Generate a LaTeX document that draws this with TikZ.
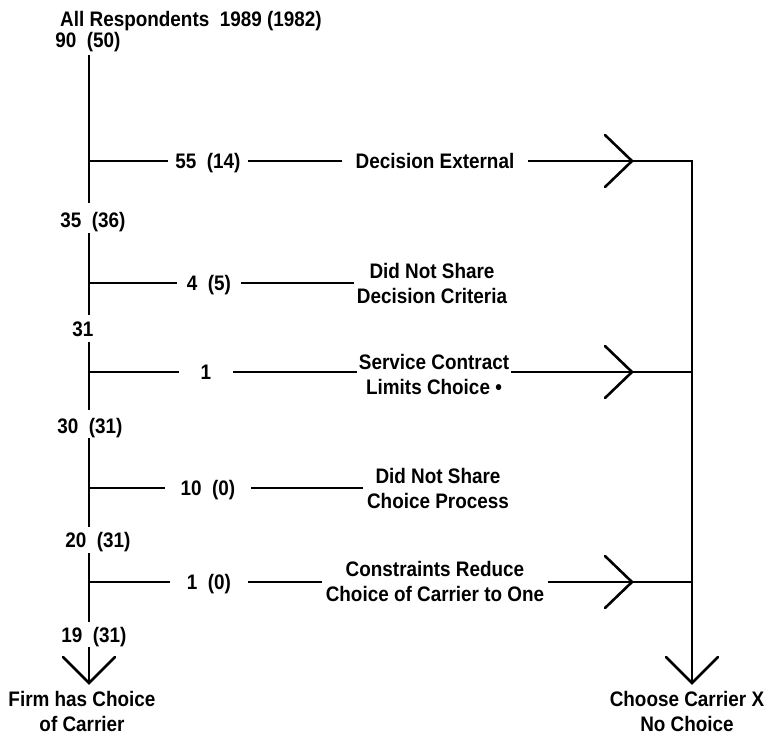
\documentclass[tikz,border=0pt]{standalone}
\usepackage{fontspec}
\setmainfont{Liberation Sans}[FakeStretch=0.9]
\begin{document}
\begin{tikzpicture}[x=1pt,y=-1pt,
  ln/.style={line width=2.6pt},
  chev/.style={line width=2.6pt, line cap=round},
  lbl/.style={font=\bfseries\fontsize{21}{25}\selectfont, inner sep=0pt, align=center},
  one/.style={lbl, text height=15pt, text depth=0pt},
]
\useasboundingbox (0,0) rectangle (772,738);
% top
\node[one] (title) at (191,19) {All Respondents\ \ 1989 (1982)};
\node[one] (n90) at (88,40) {90\ \ (50)};
\node[one] (n35) at (93,220) {35\ \ (36)};
\node[one] (n31) at (83,329) {31};
\node[one] (n30) at (90,426) {30\ \ (31)};
\node[one] (n20) at (98,540) {20\ \ (31)};
\node[one] (n19) at (94,635) {19\ \ (31)};
% branch labels
\node[one, outer xsep=7pt] (c1) at (208,161) {55\ \ (14)};
\node[one, outer xsep=14pt] (d1) at (435,161) {Decision External};
\node[one, outer xsep=10pt] (c2) at (209,283) {4\ \ (5)};
\node[lbl, outer xsep=3pt] (d2) at (432,283) {Did Not Share\\Decision Criteria};
\node[one, outer xsep=22pt] (c3) at (206,372) {1};
\node[lbl, outer xsep=2pt] (d3) at (434,374) {Service Contract\\Limits Choice •};
\node[one, outer xsep=16pt] (c4) at (208,488) {10\ \ (0)};
\node[lbl, outer xsep=4pt] (d4) at (438,488) {Did Not Share\\Choice Process};
\node[one, outer xsep=17pt] (c5) at (209,582) {1\ \ (0)};
\node[lbl, outer xsep=4pt] (d5) at (435,581) {Constraints Reduce\\Choice of Carrier to One};
\node[lbl] (fc) at (82,711) {Firm has Choice\\of Carrier};
\node[lbl] (cc) at (687,711) {Choose Carrier X\\No Choice};
% trunk coordinates
\coordinate (t0) at (89,55);  \coordinate (t1) at (89,203);
\coordinate (t2) at (89,233); \coordinate (t3) at (89,315);
\coordinate (t4) at (89,342); \coordinate (t5) at (89,410);
\coordinate (t6) at (89,438); \coordinate (t7) at (89,527);
\coordinate (t8) at (89,553); \coordinate (t9) at (89,622);
\coordinate (t10) at (89,647); \coordinate (lb) at (89,683);
\coordinate (j1) at (89,161); \coordinate (j2) at (89,283);
\coordinate (j3) at (89,372); \coordinate (j4) at (89,488);
\coordinate (j5) at (89,582);
\coordinate (a1) at (632,161); \coordinate (a3) at (632,372); \coordinate (a5) at (632,582);
\coordinate (r1) at (692,161); \coordinate (r3) at (692,372); \coordinate (r5) at (692,582);
\coordinate (rb) at (692,683);
% trunk
\draw[ln] (t0) -- (t1);
\draw[ln] (t2) -- (t3);
\draw[ln] (t4) -- (t5);
\draw[ln] (t6) -- (t7);
\draw[ln] (t8) -- (t9);
\draw[ln] (t10) -- (lb);
\draw[chev] ([shift={(-26,-26)}]lb) -- (lb) -- ([shift={(26,-26)}]lb);
% branches
\draw[ln] (j1) -- (c1.west);
\draw[ln] (c1.east) -- (d1.west);
\draw[ln] (d1.east) -- (a1) -- (r1) -- (rb);
\draw[chev] ([shift={(-27,-26)}]a1) -- (a1) -- ([shift={(-27,26)}]a1);
\draw[chev] ([shift={(-26,-26)}]rb) -- (rb) -- ([shift={(26,-26)}]rb);
\draw[ln] (j2) -- (c2.west);
\draw[ln] (c2.east) -- (c2.east -| d2.west);
\draw[ln] (j3) -- (c3.west);
\draw[ln] (c3.east) -- (c3.east -| d3.west);
\draw[ln] (c3.east -| d3.east) -- (a3) -- (r3);
\draw[chev] ([shift={(-27,-26)}]a3) -- (a3) -- ([shift={(-27,26)}]a3);
\draw[ln] (j4) -- (c4.west);
\draw[ln] (c4.east) -- (c4.east -| d4.west);
\draw[ln] (j5) -- (c5.west);
\draw[ln] (c5.east) -- (c5.east -| d5.west);
\draw[ln] (c5.east -| d5.east) -- (a5) -- (r5);
\draw[chev] ([shift={(-27,-26)}]a5) -- (a5) -- ([shift={(-27,26)}]a5);
\end{tikzpicture}
\end{document}
